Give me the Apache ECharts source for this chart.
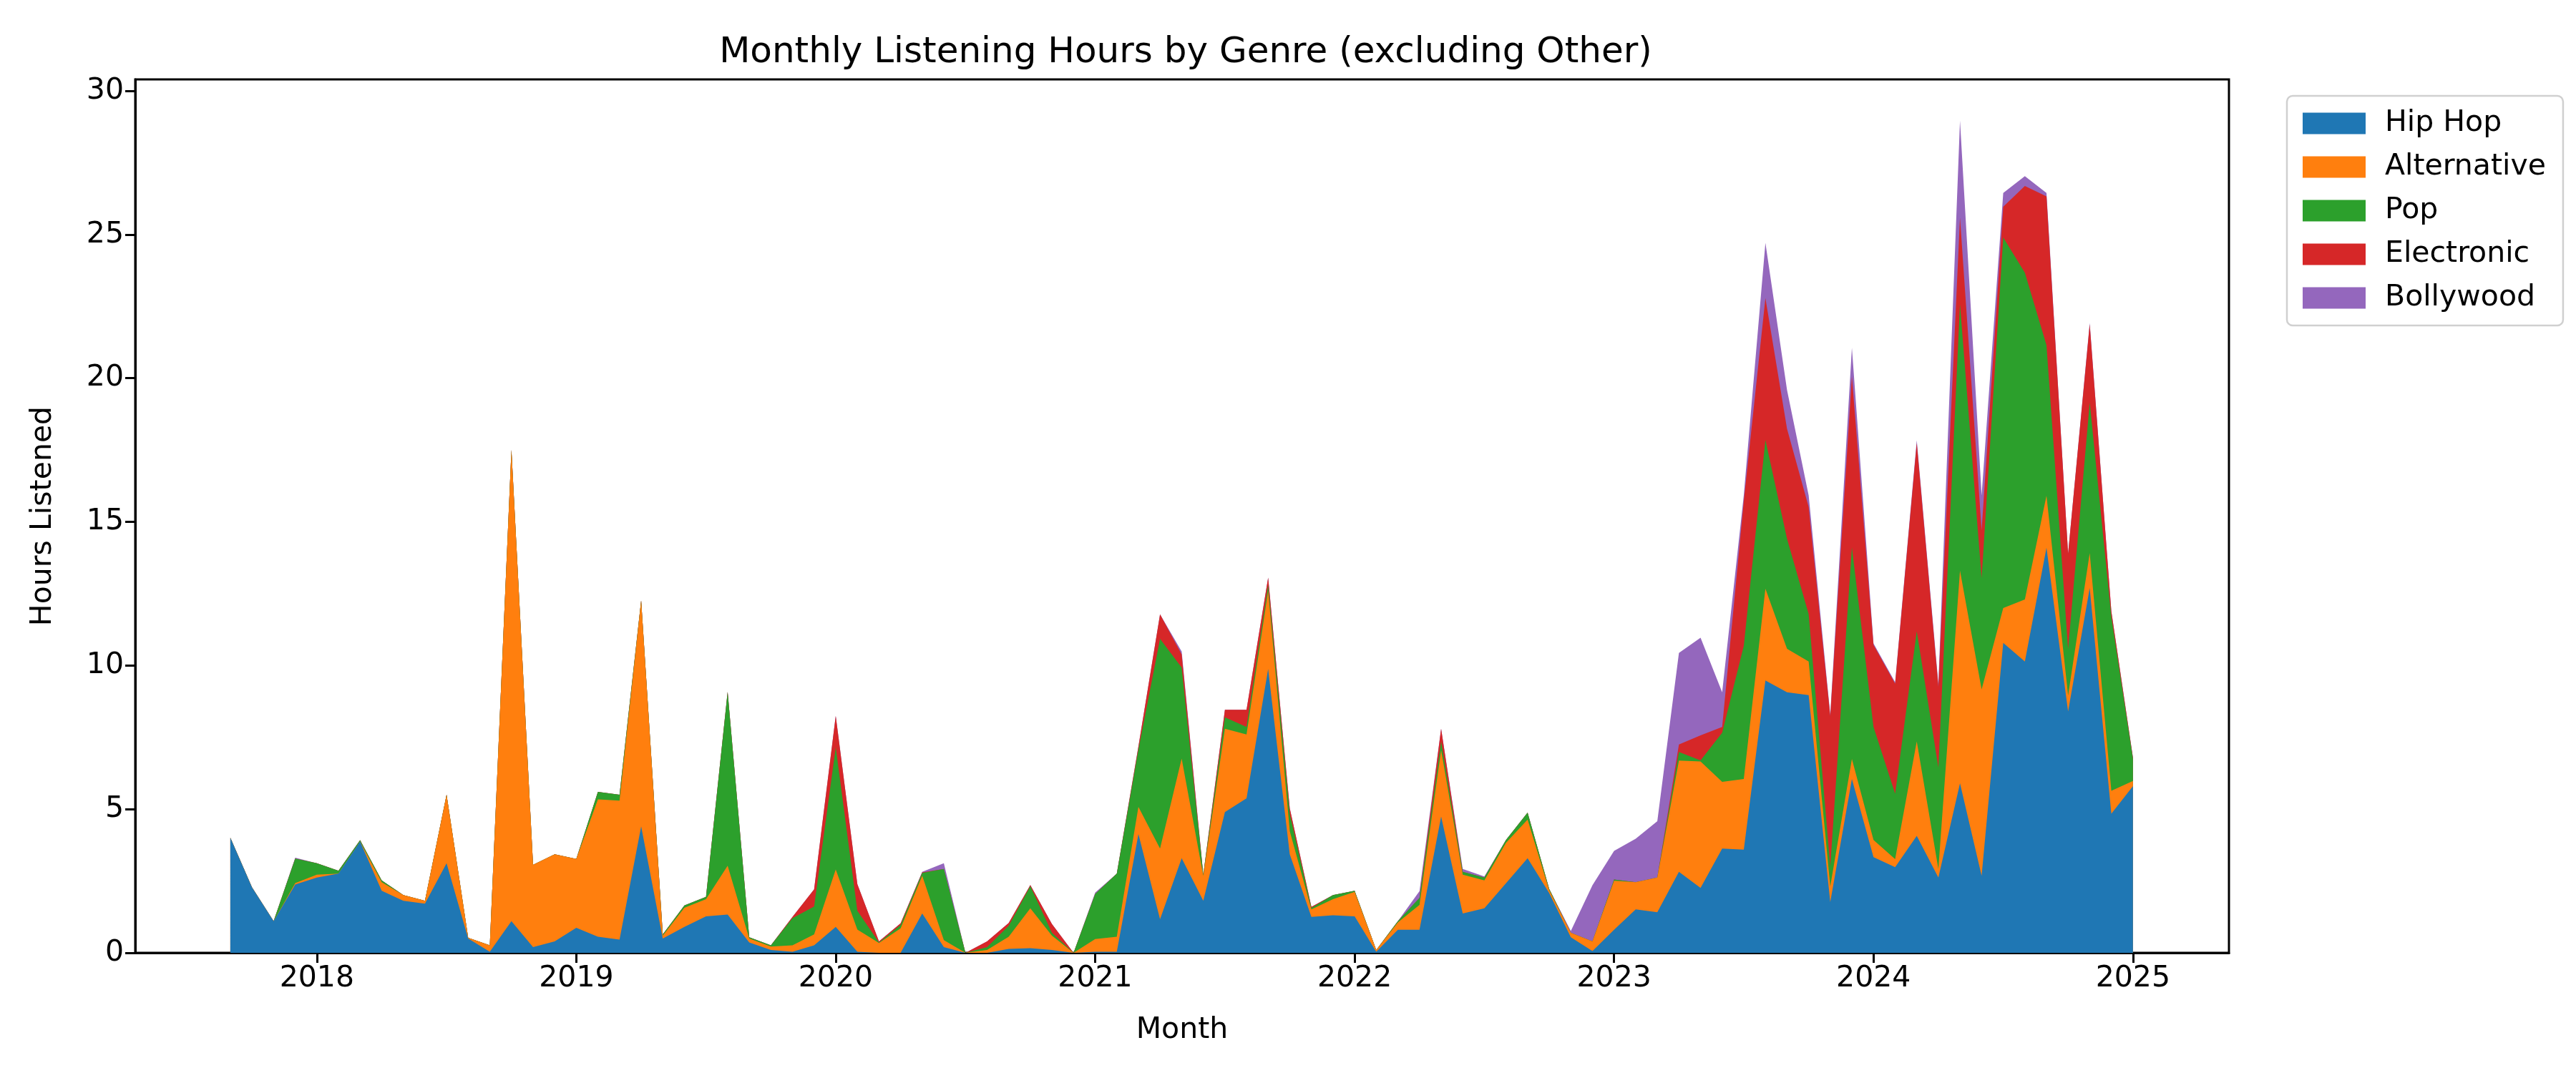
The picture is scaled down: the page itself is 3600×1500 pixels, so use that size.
<!DOCTYPE html>
<html><head><meta charset="utf-8">
<script src="https://cdn.jsdelivr.net/npm/echarts@6/dist/echarts.min.js"></script>
<style>html,body{margin:0;padding:0;background:#fff}#c{width:3600px;height:1500px}</style>
</head><body><div id="c"></div>
<script>
const startYear = 2017, startMonth = 9, monthCount = 89;
const months = [];
for (let i = 0; i < monthCount; i++) {
  const m = startMonth - 1 + i;
  months.push((startYear + Math.floor(m / 12)) + '-' + String(m % 12 + 1).padStart(2, '0'));
}
const yearTicks = [2018, 2019, 2020, 2021, 2022, 2023, 2024, 2025];
const hourTicks = [0, 5, 10, 15, 20, 25, 30];
const genres = ['Hip Hop', 'Alternative', 'Pop', 'Electronic', 'Bollywood'];
const hipHop = [4.0,2.28,1.1,2.38,2.62,2.76,3.87,2.16,1.81,1.71,3.12,0.5,0.04,1.1,0.2,0.4,0.87,0.56,0.46,4.4,0.5,0.9,1.27,1.33,0.36,0.1,0.04,0.26,0.9,0.04,0,0,1.37,0.2,0,0,0.14,0.16,0.1,0,0.04,0.04,4.13,1.17,3.29,1.81,4.9,5.38,9.88,3.43,1.25,1.31,1.27,0.04,0.8,0.8,4.74,1.37,1.55,2.42,3.29,2.08,0.54,0.06,0.8,1.51,1.41,2.82,2.26,3.63,3.59,9.48,9.07,8.97,1.77,6.05,3.33,2.98,4.07,2.62,5.9,2.68,10.79,10.14,14.1,8.4,12.7,4.84,5.8];
const alternative = [0,0,0,0.05,0.1,0,0,0.3,0.2,0.1,2.38,0.02,0.22,16.4,2.86,3.03,2.4,4.78,4.84,7.86,0.1,0.67,0.6,1.7,0.14,0.12,0.22,0.38,2.0,0.77,0.34,0.85,1.31,0.24,0,0.1,0.42,1.39,0.5,0,0.44,0.52,0.95,2.46,3.47,0.87,2.9,2.22,2.72,0.8,0.26,0.56,0.85,0.06,0.26,0.87,2.32,1.35,0.97,1.41,1.35,0.1,0.16,0.34,1.71,0.95,1.21,3.87,4.4,2.32,2.46,3.19,1.51,1.17,0.54,0.7,0.6,0.28,3.29,0.3,7.4,6.49,1.21,2.16,1.81,0.56,1.21,0.8,0.18];
const pop = [0,0,0,0.85,0.4,0.1,0.05,0.06,0,0,0,0,0,0,0,0,0,0.26,0.2,0,0.04,0.08,0.08,6.05,0.04,0.04,0.95,0.97,4.25,0.65,0.02,0.12,0.1,2.48,0,0.1,0.38,0.77,0.1,0,1.57,2.2,2.0,7.3,3.17,0.04,0.4,0.26,0.2,0.6,0.05,0.14,0.04,0,0.04,0.24,0.3,0.1,0.1,0.1,0.24,0.04,0,0,0.04,0,0,0.3,0.04,1.71,4.64,5.18,3.83,1.65,0.7,7.36,3.93,2.28,3.83,3.53,9.27,3.87,12.9,11.37,5.24,1.61,5.24,6.05,0.77];
const electronic = [0,0,0,0,0,0,0,0,0,0,0,0,0,0,0,0,0,0,0,0,0,0,0,0,0,0,0.04,0.6,1.1,0.93,0.04,0.06,0.02,0,0,0.2,0.1,0.04,0.3,0,0,0,0.1,0.85,0.46,0,0.26,0.6,0.26,0.2,0.04,0,0,0,0,0,0.44,0,0,0,0,0,0,0,0,0,0,0.26,0.87,0.2,5.04,4.94,3.83,3.73,5.24,5.95,2.86,3.83,6.55,2.82,3.02,1.67,1.07,3.02,5.18,3.33,2.72,0.2,0.04];
const bollywood = [0,0,0,0.03,0,0,0,0,0,0,0,0,0,0,0,0,0,0,0,0,0,0,0,0,0,0,0,0,0,0,0,0,0.02,0.2,0,0,0,0,0,0,0.05,0,0,0,0.1,0,0,0,0,0,0,0,0,0,0,0.24,0,0.1,0.04,0,0,0,0.06,1.95,1.0,1.51,1.96,3.19,3.4,1.21,0.2,1.92,1.35,0.4,0.05,1.0,0.05,0.05,0.1,0.1,3.37,1.21,0.48,0.34,0.12,0,0.05,0,0];
const seriesValues = [hipHop, alternative, pop, electronic, bollywood];
const colors = ['#1f77b4', '#ff7f0e', '#2ca02c', '#d62728', '#9467bd'];

const xPos = months.map(s => { const [y, m] = s.split('-').map(Number); return y + (m - 1) / 12; });
// cumulative stack tops (stackplot)
const cumulative = [];
seriesValues.forEach((vals, i) => {
  cumulative.push(vals.map((v, k) => v + (i > 0 ? cumulative[i - 1][k] : 0)));
});
const font = 'DejaVu Sans';
const chart = echarts.init(document.getElementById('c'), null, {renderer: 'canvas'});
chart.setOption({
  animation: false,
  backgroundColor: '#fff',
  title: {text: 'Monthly Listening Hours by Genre (excluding Other)', left: 1652, top: 44, textAlign: 'center',
    textStyle: {fontFamily: font, fontSize: 50, fontWeight: 'normal', color: '#000'}},
  legend: {orient: 'vertical', left: 3196, top: 134, itemWidth: 88, itemHeight: 30, itemGap: 20,
    padding: [18, 24, 18, 22], borderColor: '#d0d0d0', borderWidth: 2.5, borderRadius: 8,
    icon: 'rect', textStyle: {fontFamily: font, fontSize: 41, color: '#000', padding: [0, 0, 0, 22]},
    data: genres.map((g, i) => ({name: g, itemStyle: {color: colors[i]}}))},
  grid: {left: 189, right: 485, top: 111, bottom: 168, show: true, borderColor: '#000', borderWidth: 3},
  xAxis: {type: 'value', min: 2017.3, max: 2025.37, name: 'Month', nameLocation: 'middle', nameGap: 88,
    nameTextStyle: {fontFamily: font, fontSize: 41, color: '#000'},
    axisLine: {show: true, onZero: false, lineStyle: {color: '#000', width: 3}},
    axisTick: {show: true, customValues: yearTicks, length: 14, lineStyle: {color: '#000', width: 3}},
    axisLabel: {customValues: yearTicks, formatter: v => String(v), fontFamily: font, fontSize: 41, color: '#000', margin: 16},
    splitLine: {show: false}},
  yAxis: {type: 'value', min: 0, max: 30.4, name: 'Hours Listened', nameLocation: 'middle', nameGap: 108,
    nameTextStyle: {fontFamily: font, fontSize: 41, color: '#000'},
    axisLine: {show: true, lineStyle: {color: '#000', width: 3}},
    axisTick: {show: true, customValues: hourTicks, length: 14, lineStyle: {color: '#000', width: 3}},
    axisLabel: {customValues: hourTicks, fontFamily: font, fontSize: 41, color: '#000', margin: 16},
    splitLine: {show: false}},
  series: genres.map((g, i) => ({
    name: g, type: 'line', symbol: 'none', showSymbol: false, z: 10 - i,
    lineStyle: {width: 0}, areaStyle: {opacity: 1, color: colors[i]}, itemStyle: {color: colors[i]},
    data: cumulative[i].map((v, k) => [xPos[k], v])
  })).reverse()
});
</script></body></html>
